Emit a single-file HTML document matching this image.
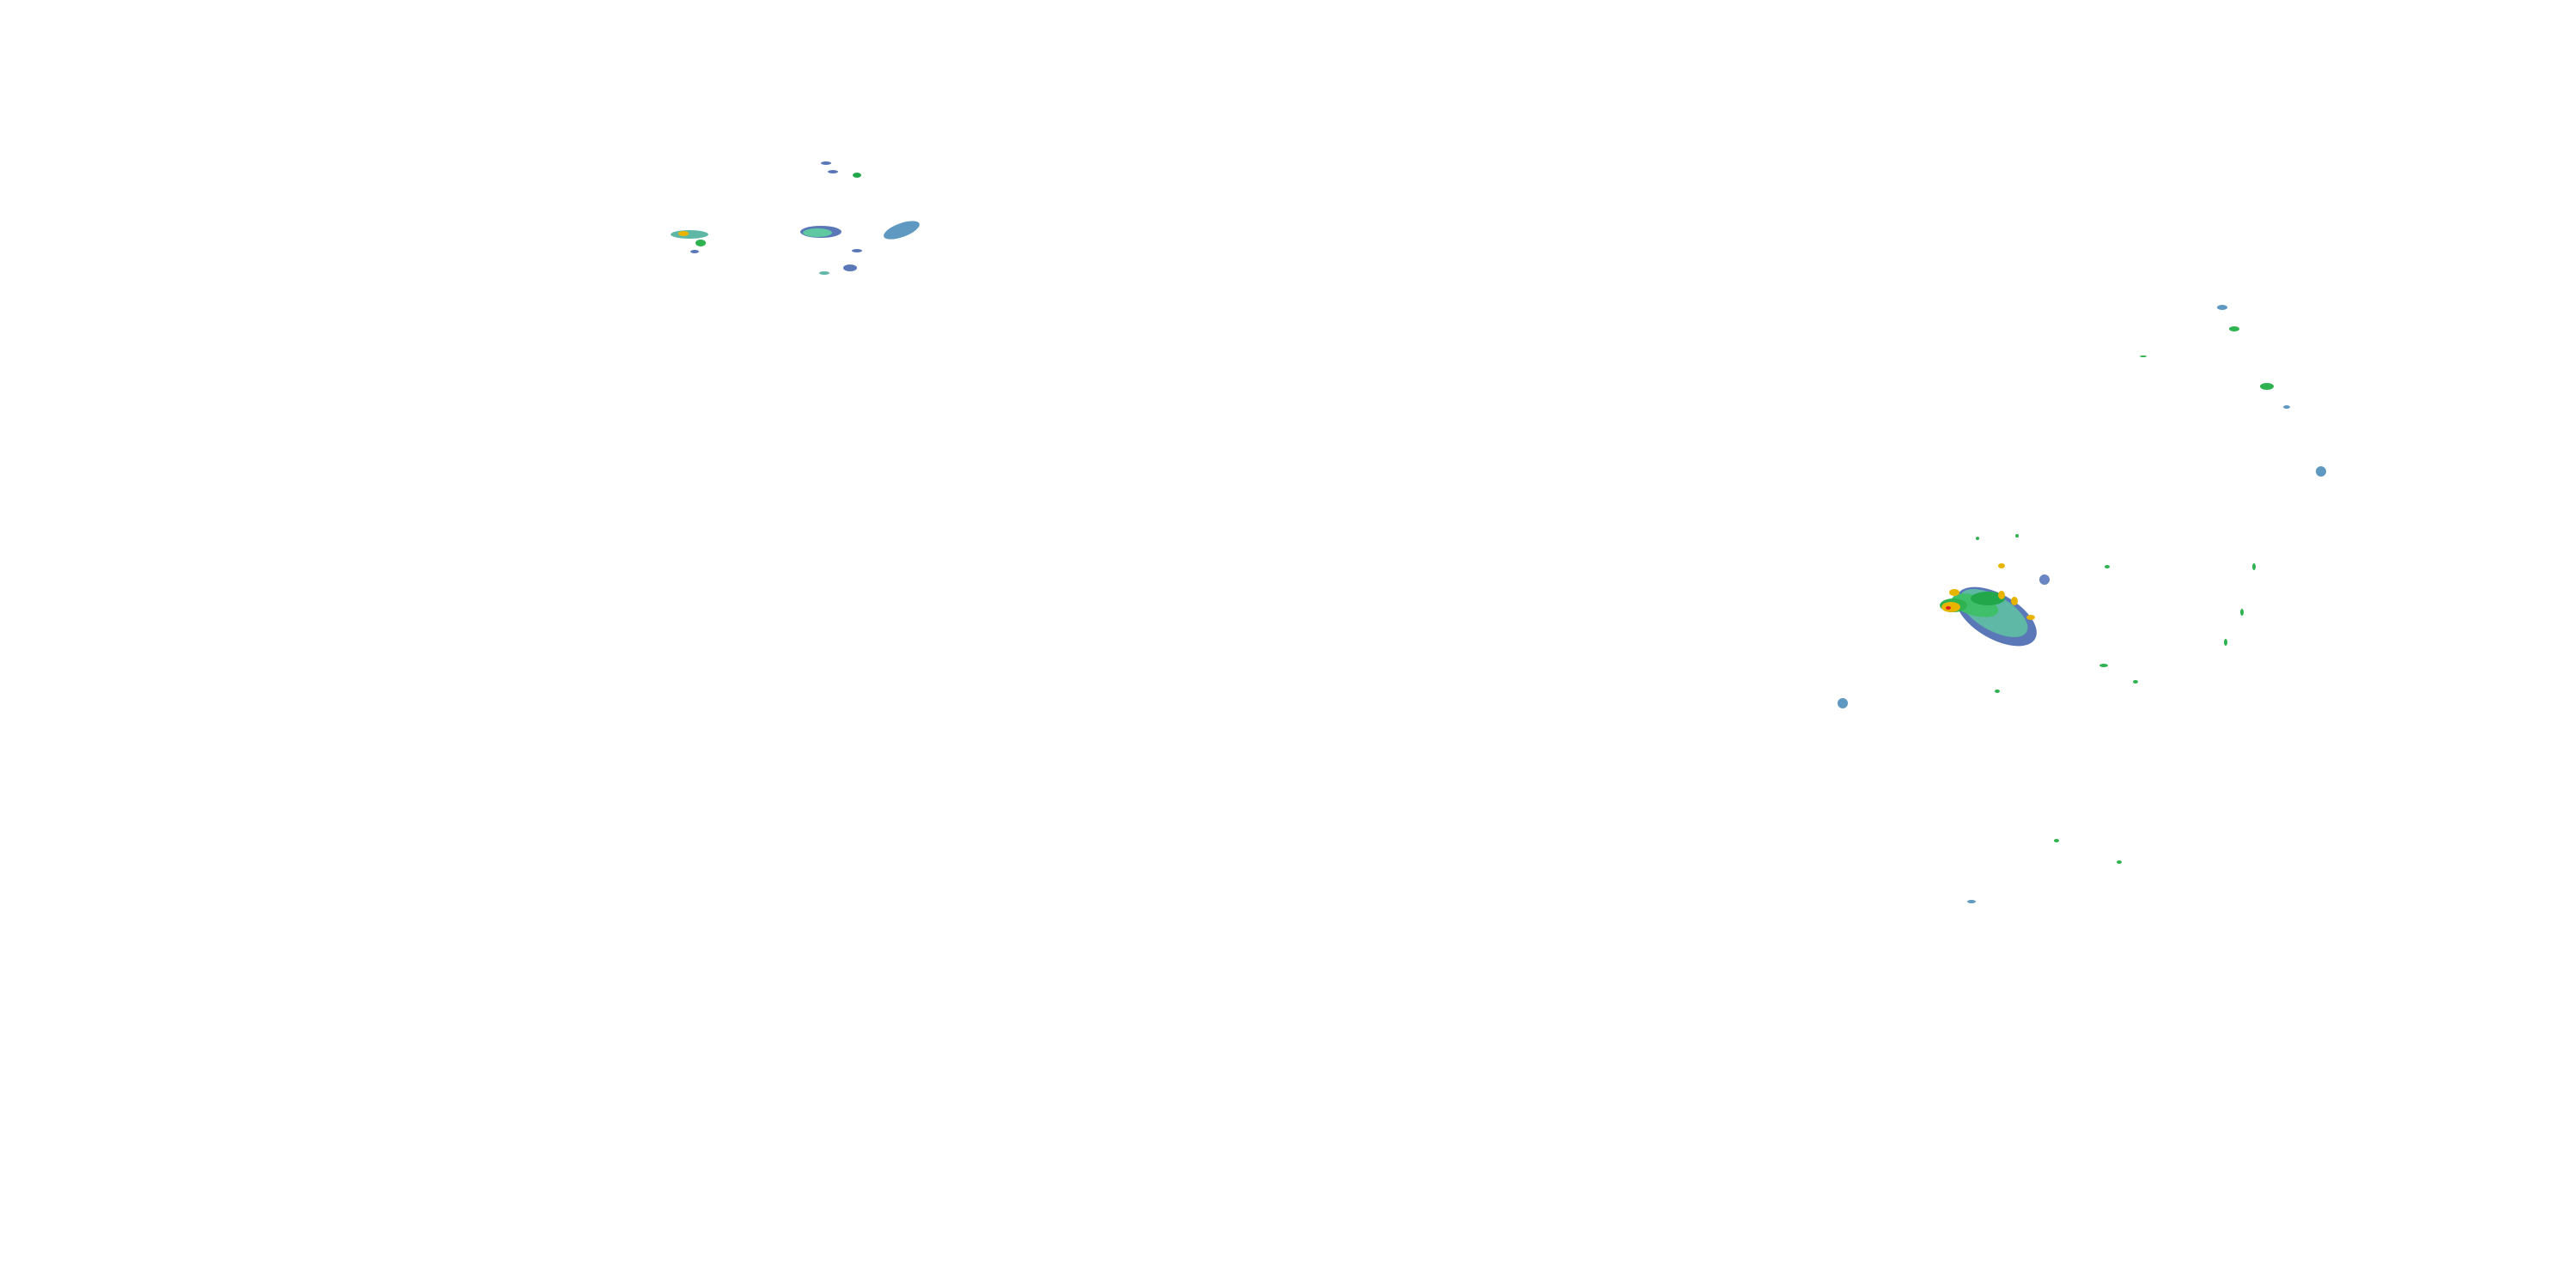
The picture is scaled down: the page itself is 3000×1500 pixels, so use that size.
<!DOCTYPE html>
<html><head><style>html,body{margin:0;padding:0;background:#fff;width:3000px;height:1500px;overflow:hidden}</style></head>
<body>
<svg width="3000" height="1500" xmlns="http://www.w3.org/2000/svg">
<rect width="3000" height="1500" fill="#fff"/>
<!-- main storm -->
<g>
<ellipse cx="2325" cy="718" rx="52" ry="26" transform="rotate(30 2325 718)" fill="#5a78b8"/>
<ellipse cx="2322" cy="714" rx="44" ry="20" transform="rotate(30 2322 714)" fill="#5fb8a6"/>
<ellipse cx="2300" cy="705" rx="28" ry="12" transform="rotate(15 2300 705)" fill="#3fbf6a"/>
<ellipse cx="2315" cy="697" rx="20" ry="8" fill="#22a84a"/>
<ellipse cx="2275" cy="705" rx="16" ry="8" fill="#2eb350"/>
<ellipse cx="2272" cy="707" rx="11" ry="6" fill="#e8b400"/>
<ellipse cx="2276" cy="690" rx="6" ry="4" fill="#e8b400"/>
<ellipse cx="2269" cy="708" rx="3" ry="2" fill="#e02020"/>
<ellipse cx="2331" cy="693" rx="4" ry="5" fill="#e8b400"/>
<ellipse cx="2346" cy="700" rx="4" ry="5" fill="#e8b400"/>
<ellipse cx="2365" cy="719" rx="5" ry="3" fill="#e8b400"/>
<ellipse cx="2331" cy="659" rx="4" ry="3" fill="#e8b400"/>
<ellipse cx="2381" cy="675" rx="6" ry="6" fill="#6a86c4"/>
</g>
<!-- left cluster -->
<g>
<ellipse cx="803" cy="273" rx="22" ry="5" fill="#5fb8a6"/>
<ellipse cx="796" cy="272" rx="6" ry="3" fill="#e8b400"/>
<ellipse cx="816" cy="283" rx="6" ry="4" fill="#2eb350"/>
<ellipse cx="809" cy="293" rx="5" ry="2" fill="#5a78b8"/>
<ellipse cx="956" cy="270" rx="24" ry="7" fill="#5a78b8"/>
<ellipse cx="952" cy="271" rx="17" ry="5" fill="#5fc8a0"/>
<ellipse cx="1050" cy="268" rx="22" ry="8" transform="rotate(-20 1050 268)" fill="#5f98c0"/>
<ellipse cx="998" cy="204" rx="5" ry="3" fill="#22a84a"/>
<ellipse cx="990" cy="312" rx="8" ry="4" fill="#5a78b8"/>
<ellipse cx="962" cy="190" rx="6" ry="2" fill="#5a78b8"/>
<ellipse cx="970" cy="200" rx="6" ry="2" fill="#5a78b8"/>
<ellipse cx="998" cy="292" rx="6" ry="2" fill="#5a78b8"/>
<ellipse cx="960" cy="318" rx="6" ry="2" fill="#5fb8a6"/>
</g>
<!-- scattered -->
<g fill="#2eb350">
<ellipse cx="2602" cy="383" rx="6" ry="3"/>
<ellipse cx="2640" cy="450" rx="8" ry="4"/>
<ellipse cx="2326" cy="805" rx="3" ry="2"/>
<ellipse cx="2468" cy="1004" rx="3" ry="2"/>
<ellipse cx="2395" cy="979" rx="3" ry="2"/>
<ellipse cx="2487" cy="794" rx="3" ry="2"/>
<ellipse cx="2592" cy="748" rx="2" ry="4"/>
<ellipse cx="2611" cy="713" rx="2" ry="4"/>
<ellipse cx="2625" cy="660" rx="2" ry="4"/>
<ellipse cx="2454" cy="660" rx="3" ry="2"/>
<ellipse cx="2496" cy="415" rx="4" ry="1"/>
<ellipse cx="2349" cy="624" rx="2" ry="2"/>
<ellipse cx="2303" cy="627" rx="2" ry="2"/>
<ellipse cx="2450" cy="775" rx="5" ry="2"/>
</g>
<g fill="#5f98c0">
<ellipse cx="2703" cy="549" rx="6" ry="6"/>
<ellipse cx="2146" cy="819" rx="6" ry="6"/>
<ellipse cx="2296" cy="1050" rx="5" ry="2"/>
<ellipse cx="2588" cy="358" rx="6" ry="3"/>
<ellipse cx="2663" cy="474" rx="4" ry="2"/>
</g>
</svg>
</body></html>
